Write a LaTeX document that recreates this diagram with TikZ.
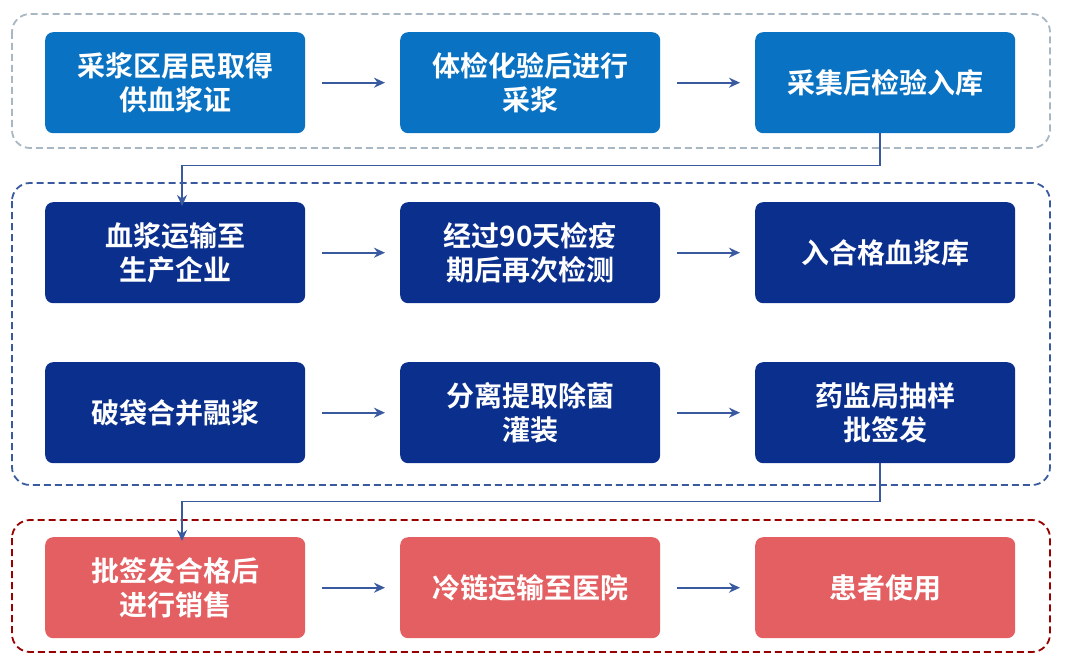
\documentclass[tikz,border=0pt]{standalone}
\usepackage{fontspec}
\setmainfont{Noto Sans CJK SC}[BoldFont={* Bold}]
\usetikzlibrary{arrows.meta}
\definecolor{b1}{HTML}{0A72C2}
\definecolor{b2}{HTML}{0B2F8C}
\definecolor{r1}{HTML}{E35F62}
\definecolor{ar}{HTML}{3A5AA0}
\begin{document}
\begin{tikzpicture}[x=1pt,y=-1pt,
 box/.style={rounded corners=8pt,minimum width=260pt,minimum height=101pt,anchor=north west,text=white,font=\bfseries\fontsize{28}{34}\selectfont,align=center,inner sep=0pt},
 arr/.style={draw=ar,line width=1.8pt,-{Stealth[length=11pt,width=10pt]}},
 grp/.style={rounded corners=18pt,line width=1.8pt,dash pattern=on 7pt off 4pt}]
\useasboundingbox (0,0) rectangle (1067,666);
\draw[grp,draw=b1!25!gray!55] (12,14) rectangle (1050,148);
\draw[grp,draw=ar] (12,183) rectangle (1050,485);
\draw[grp,draw=red!60!black] (12,520) rectangle (1050,652);
\node[box,fill=b1] (a1) at (45,32) {采浆区居民取得\\供血浆证};
\node[box,fill=b1] (a2) at (400,32) {体检化验后进行\\采浆};
\node[box,fill=b1] (a3) at (755,32) {采集后检验入库};
\node[box,fill=b2] (b1) at (45,202) {血浆运输至\\生产企业};
\node[box,fill=b2] (b2) at (400,202) {经过90天检疫\\期后再次检测};
\node[box,fill=b2] (b3) at (755,202) {入合格血浆库};
\node[box,fill=b2] (c1) at (45,362) {破袋合并融浆};
\node[box,fill=b2] (c2) at (400,362) {分离提取除菌\\灌装};
\node[box,fill=b2] (c3) at (755,362) {药监局抽样\\批签发};
\node[box,fill=r1] (d1) at (45,537) {批签发合格后\\进行销售};
\node[box,fill=r1] (d2) at (400,537) {冷链运输至医院};
\node[box,fill=r1] (d3) at (755,537) {患者使用};
\foreach \p/\q in {a1/a2,a2/a3,b1/b2,b2/b3,c1/c2,c2/c3,d1/d2,d2/d3}
  \draw[arr] ([xshift=17pt]\p.east) -- ([xshift=-15pt]\q.west);
\draw[arr] ([xshift=-5pt]a3.south) |- ++(0,32) -| ([xshift=137pt,yshift=-4pt]b1.north west);
\draw[arr] ([xshift=-5pt]c3.south) |- ++(0,38) -| ([xshift=137pt,yshift=-4pt]d1.north west);
\end{tikzpicture}
\end{document}
